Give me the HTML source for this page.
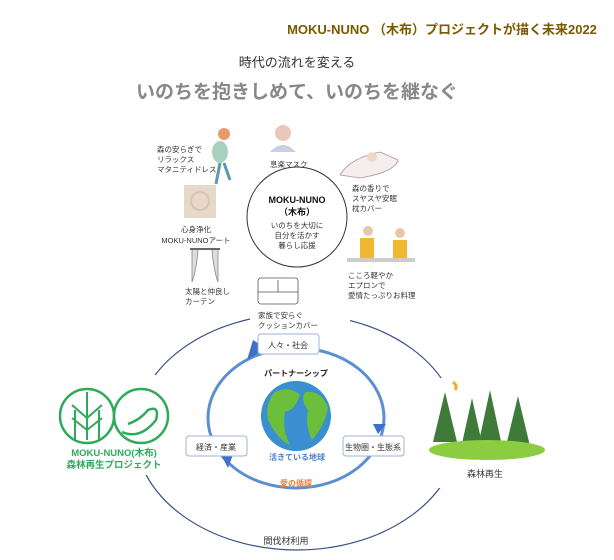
<!DOCTYPE html>
<html><head><meta charset="utf-8"><style>
body{margin:0;width:614px;height:560px;background:#fff;overflow:hidden;font-family:"Liberation Sans","Noto Sans CJK JP",sans-serif}
svg{position:absolute;left:0;top:0}
</style></head><body>
<svg width="614" height="560" viewBox="0 0 614 560" font-family="Liberation Sans, Noto Sans CJK JP, sans-serif">
<text x="442" y="34" text-anchor="middle" font-size="13" font-weight="bold" fill="#7a5a00">MOKU-NUNO （木布）プロジェクトが描く未来2022</text>
<text x="297" y="67" text-anchor="middle" font-size="13" fill="#333">時代の流れを変える</text>
<text x="297" y="98" text-anchor="middle" font-size="19" font-weight="bold" fill="#888">いのちを抱きしめて、いのちを継なぐ</text>

<ellipse cx="297" cy="432" rx="162" ry="118" fill="none" stroke="#3a4f8a" stroke-width="1.2"/>
<rect x="40" y="375" width="130" height="100" fill="#fff"/>
<rect x="428" y="378" width="120" height="110" fill="#fff"/>
<rect x="250" y="300" width="100" height="36" fill="#fff"/>

<circle cx="297" cy="217" r="50" fill="#fff" stroke="#333" stroke-width="1"/>
<text x="297" y="203" text-anchor="middle" font-size="9" font-weight="bold" fill="#111">MOKU-NUNO</text>
<text x="297" y="215" text-anchor="middle" font-size="9" font-weight="bold" fill="#111">（木布）</text>
<text font-size="7.5" fill="#333" text-anchor="middle"><tspan x="297" y="228">いのちを大切に</tspan><tspan x="297" y="238">自分を活かす</tspan><tspan x="297" y="248">暮らし応援</tspan></text>

<g font-size="7.5" fill="#333">
<text><tspan x="157" y="152">森の安らぎで</tspan><tspan x="157" y="162">リラックス</tspan><tspan x="157" y="172">マタニティドレス</tspan></text>
<text x="270" y="167">息楽マスク</text>
<text><tspan x="352" y="191">森の香りで</tspan><tspan x="352" y="201">スヤスヤ安眠</tspan><tspan x="352" y="211">枕カバー</tspan></text>
<text text-anchor="middle"><tspan x="196" y="232">心身浄化</tspan><tspan x="196" y="243">MOKU-NUNOアート</tspan></text>
<text><tspan x="185" y="294">太陽と仲良し</tspan><tspan x="185" y="304">カーテン</tspan></text>
<text><tspan x="348" y="278">こころ軽やか</tspan><tspan x="348" y="288">エプロンで</tspan><tspan x="348" y="298">愛情たっぷりお料理</tspan></text>
<text><tspan x="258" y="318">家族で安らぐ</tspan><tspan x="258" y="328">クッションカバー</tspan></text>
</g>
<circle cx="224" cy="134" r="6" fill="#e89a6a"/><ellipse cx="220" cy="152" rx="8" ry="11" fill="#a8d0c0"/><path d="M220 163 L216 184 M224 163 L230 180" stroke="#5a9ab0" stroke-width="3"/>
<circle cx="283" cy="133" r="8" fill="#e8c8b8"/><path d="M270 152 Q283 138 296 152 Z" fill="#c8cfe0"/>
<path d="M340 175 Q350 158 380 152 L398 160 Q395 172 360 178 Z" fill="#f5eeee" stroke="#b09090" stroke-width="0.8"/><circle cx="372" cy="157" r="5" fill="#f0d8c8"/>
<rect x="184" y="185" width="32" height="33" fill="#e8d8c8"/><circle cx="200" cy="201" r="9" fill="none" stroke="#d8c4b0" stroke-width="2"/>
<rect x="190" y="248" width="30" height="2" fill="#666"/><path d="M192 250 L192 282 Q196 272 198 250 M218 250 L218 282 Q214 272 212 250" stroke="#888" fill="#ddd" stroke-width="0.8"/>
<circle cx="368" cy="231" r="5" fill="#e8c8a8"/><circle cx="400" cy="233" r="5" fill="#e8c8a8"/>
<rect x="360" y="238" width="14" height="20" fill="#f0b830"/><rect x="393" y="240" width="14" height="18" fill="#f0b830"/>
<rect x="347" y="258" width="68" height="4" fill="#ccc"/>
<rect x="258" y="278" width="40" height="26" rx="3" fill="#fff" stroke="#555" stroke-width="0.8"/><line x1="278" y1="280" x2="278" y2="292" stroke="#555" stroke-width="0.8"/><line x1="258" y1="292" x2="298" y2="292" stroke="#555" stroke-width="0.8"/>

<ellipse cx="296" cy="418" rx="88" ry="70" fill="none" stroke="#5b8fd0" stroke-width="3"/>
<polygon points="247,360 266,348 253,340" fill="#3f6fc8"/>
<polygon points="373,424 386,424 378,434" fill="#3f6fc8"/>
<polygon points="220,453 228,468 234,452" fill="#3f6fc8"/>
<rect x="258" y="334" width="61" height="20" rx="3" fill="#fff" stroke="#9ab4d8"/>
<text x="288" y="348" text-anchor="middle" font-size="8" fill="#333">人々・社会</text>
<rect x="186" y="436" width="61" height="20" rx="3" fill="#fff" stroke="#9ab4d8"/>
<text x="216" y="450" text-anchor="middle" font-size="8" fill="#333">経済・産業</text>
<rect x="343" y="436" width="61" height="20" rx="3" fill="#fff" stroke="#9ab4d8"/>
<text x="373" y="450" text-anchor="middle" font-size="8" fill="#333">生物圏・生態系</text>
<text x="296" y="376" text-anchor="middle" font-size="8" font-weight="bold" fill="#222">パートナーシップ</text>
<circle cx="296" cy="416" r="35" fill="#3a8fd0"/>
<path d="M275 392 Q290 385 300 395 Q295 410 285 412 Q282 430 290 445 Q278 440 268 420 Q265 402 275 392Z" fill="#6cbf3a"/>
<path d="M305 392 Q322 390 328 408 Q325 425 312 440 Q305 425 308 410 Q300 400 305 392Z" fill="#6cbf3a"/>
<text x="297" y="460" text-anchor="middle" font-size="8" font-weight="bold" fill="#4a7fcf">活きている地球</text>
<text x="296" y="486" text-anchor="middle" font-size="8" font-weight="bold" fill="#e8803a">愛の循環</text>
<text x="286" y="544" text-anchor="middle" font-size="9" fill="#333">間伐材利用</text>

<circle cx="87" cy="416" r="27" fill="none" stroke="#2eaa5a" stroke-width="2.5"/>
<circle cx="141" cy="416" r="27" fill="none" stroke="#2eaa5a" stroke-width="2.5"/>
<path d="M87 392 L87 440 M72 405 L87 418 L102 405 M72 418 L87 430 L102 418 M75 440 L75 410 M99 440 L99 410" stroke="#2eaa5a" stroke-width="2" fill="none"/>
<path d="M122 432 Q140 440 156 420 Q160 405 148 410 Q140 420 128 424" stroke="#2eaa5a" stroke-width="2.5" fill="none"/>
<text x="114" y="456" text-anchor="middle" font-size="9.5" font-weight="bold" fill="#2eaa5a">MOKU-NUNO(木布)</text>
<text x="114" y="468" text-anchor="middle" font-size="9.5" font-weight="bold" fill="#2eaa5a">森林再生プロジェクト</text>

<path d="M453 382 Q458 386 455 390" stroke="#f0b020" stroke-width="3" fill="none"/>
<g fill="#3f7a3a">
<polygon points="445,392 433,442 457,442"/>
<polygon points="472,398 461,448 483,448"/>
<polygon points="490,390 478,446 502,446"/>
<polygon points="518,396 506,446 530,446"/>
</g>
<ellipse cx="487" cy="450" rx="58" ry="10" fill="#8ccc40"/>
<text x="485" y="477" text-anchor="middle" font-size="9" fill="#333">森林再生</text>
</svg>
</body></html>
